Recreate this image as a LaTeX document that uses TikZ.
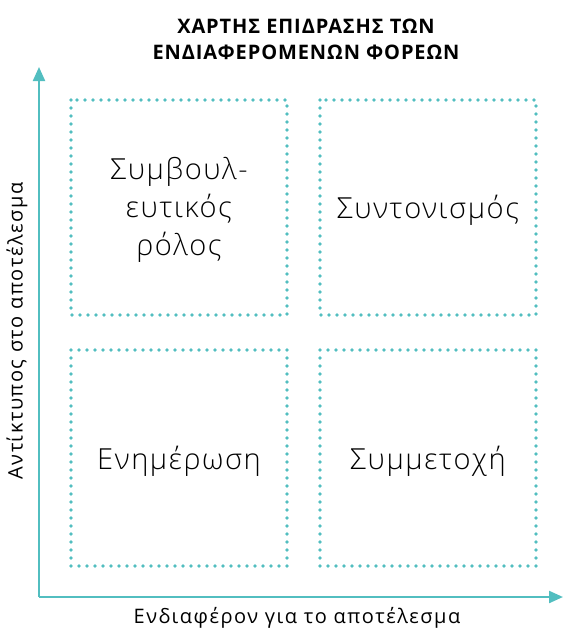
\documentclass[tikz,border=0pt]{standalone}
\usepackage{fontspec}
\setmainfont{Open Sans}
\newfontfamily\lightfont[LetterSpace=5.5]{Open Sans Light}
\newfontfamily\titlefont[LetterSpace=4.5]{Open Sans}
\newfontfamily\labelfont[LetterSpace=7.5]{Open Sans}
\usetikzlibrary{arrows.meta}
\definecolor{teal1}{HTML}{52BEC0}
\tikzset{
  axis/.style={draw=teal1, line width=2.2pt, -{Triangle[length=14pt,width=12pt]}},
  quad/.style={draw=teal1, line width=3.6pt, line cap=round, dash pattern=on 0pt off 8pt},
  quadtext/.style={font=\lightfont\fontsize{29}{38}\selectfont, align=center, text=black},
  axislabel/.style={font=\labelfont\fontsize{20}{24}\selectfont, text=black},
  titletext/.style={font=\titlefont\bfseries\fontsize{20}{26}\selectfont, align=center, text=black}
}
\begin{document}
\begin{tikzpicture}[x=1pt,y=-1pt]
\useasboundingbox (0,0) rectangle (563,630);
\node[titletext] (title) at (306,39) {ΧΑΡΤΗΣ ΕΠΙΔΡΑΣΗΣ ΤΩΝ\\ΕΝΔΙΑΦΕΡΟΜΕΝΩΝ ΦΟΡΕΩΝ};
\coordinate (origin) at (39,597);
\coordinate (ytip) at (39,67);
\coordinate (xtip) at (563,597);
\draw[axis] (origin) -- (ytip);
\draw[axis] (origin) -- (xtip);
\draw[quad] (71,100) rectangle (287,315);
\draw[quad] (320,100) rectangle (536,315);
\draw[quad] (71,350) rectangle (287,566);
\draw[quad] (320,350) rectangle (536,566);
\node[quadtext] (q1) at (179,210) {Συμβουλ-\\ευτικός\\ρόλος};
\node[quadtext] (q2) at (428,210) {Συντονισμός};
\node[quadtext] (q3) at (179,461) {Ενημέρωση};
\node[quadtext] (q4) at (428,461) {Συμμετοχή};
\node[axislabel] (xl) at (297,618) {Ενδιαφέρον για το αποτέλεσμα};
\node[axislabel, rotate=90] (yl) at (17,331) {Αντίκτυπος στο αποτέλεσμα};
\end{tikzpicture}
\end{document}
